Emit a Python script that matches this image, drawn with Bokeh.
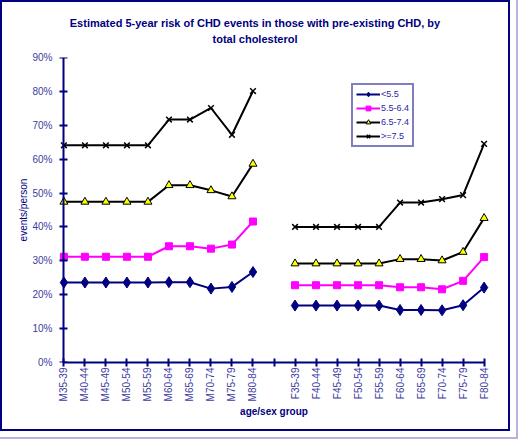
import math

from bokeh.embed import file_html
from bokeh.layouts import column
from bokeh.models import (Div, FixedTicker, Legend, LegendItem, LinearAxis,
                          PrintfTickFormatter, Range1d)
from bokeh.plotting import figure
from bokeh.resources import INLINE

# age/sex groups (men left, women right, one empty slot between)
groups_m = ["M35-39", "M40-44", "M45-49", "M50-54", "M55-59",
            "M60-64", "M65-69", "M70-74", "M75-79", "M80-84"]
groups_f = ["F35-39", "F40-44", "F45-49", "F50-54", "F55-59",
            "F60-64", "F65-69", "F70-74", "F75-79", "F80-84"]

# estimated 5-year risk (%) by total cholesterol band
lt55_m = [23.6, 23.6, 23.6, 23.6, 23.6, 23.7, 23.7, 21.8, 22.3, 26.7]
lt55_f = [16.8, 16.8, 16.8, 16.8, 16.8, 15.5, 15.5, 15.4, 16.9, 22.1]
c55_64_m = [31.2, 31.2, 31.2, 31.2, 31.2, 34.3, 34.3, 33.6, 34.8, 41.6]
c55_64_f = [22.8, 22.8, 22.8, 22.8, 22.8, 22.2, 22.2, 21.6, 24.1, 31.1]
c65_74_m = [47.4, 47.4, 47.4, 47.4, 47.4, 52.3, 52.3, 50.8, 49.0, 58.6]
c65_74_f = [29.2, 29.2, 29.2, 29.2, 29.2, 30.5, 30.5, 30.1, 32.6, 42.6]
ge75_m = [64.1, 64.1, 64.1, 64.1, 64.1, 71.7, 71.7, 75.1, 67.2, 80.1]
ge75_f = [40.0, 40.0, 40.0, 40.0, 40.0, 47.2, 47.2, 48.2, 49.4, 64.5]

y_ticks = [0, 10, 20, 30, 40, 50, 60, 70, 80, 90]

labels = groups_m + [""] + groups_f
x_m = list(range(len(groups_m)))
x_f = [len(groups_m) + 1 + i for i in range(len(groups_f))]

NAVY = "#000080"
TICK_BLUE = "#3C3CA0"
FONT = "Liberation Sans"

title = Div(
    text="Estimated 5-year risk of CHD events in those with pre-existing CHD, by"
         "<br>total cholesterol",
    width=506,
    height=48,
    margin=0,
    styles={
        "text-align": "center",
        "font-family": FONT,
        "font-weight": "bold",
        "font-size": "11px",
        "line-height": "16px",
        "color": NAVY,
        "padding-top": "13px",
        "box-sizing": "border-box",
    },
)

p = figure(
    width=506,
    height=379,
    output_backend="svg",
    toolbar_location=None,
    x_range=Range1d(-0.4, len(labels) - 1 + 0.4),
    y_range=Range1d(0, 90),
    min_border_left=53,
    min_border_right=16,
    min_border_top=7,
    min_border_bottom=67,
    margin=0,
)
p.outline_line_color = None
p.grid.visible = False

series = [
    ("<5.5", lt55_m, lt55_f, NAVY, "diamond", NAVY, 11),
    ("5.5-6.4", c55_64_m, c55_64_f, "#FF00FF", "square", "#FF00FF", 7),
    ("6.5-7.4", c65_74_m, c65_74_f, "black", "triangle", "#FFFF00", 8),
    (">=7.5", ge75_m, ge75_f, "black", "x", "black", 8),
]

items = []
for name, ym, yf, color, marker, fill, size in series:
    rs = []
    for xs, ys in ((x_m, ym), (x_f, yf)):
        rs.append(p.line(xs, ys, line_color=color, line_width=2))
        rs.append(p.scatter(xs, ys, marker=marker, size=size, fill_color=fill,
                            line_color=color, line_width=1.5 if marker == "x" else 1))
    items.append(LegendItem(label=name, renderers=[rs[0], rs[1]]))

legend = Legend(
    items=items,
    location=(296, 215),
    label_text_font=FONT,
    label_text_font_size="9px",
    label_text_color="#2828A0",
    glyph_width=24,
    glyph_height=12,
    label_height=12,
    spacing=2,
    padding=3,
    margin=0,
    label_standoff=1,
    border_line_color=NAVY,
    border_line_width=2,
    background_fill_alpha=1,
)
p.add_layout(legend, "center")

# x axis: regular axis at the bottom of the frame
xa = p.xaxis[0]
xa.bounds = (0, len(labels) - 1)
xa.ticker = FixedTicker(ticks=list(range(len(labels))))
xa.major_label_overrides = {i: t for i, t in enumerate(labels)}
xa.major_label_orientation = math.pi / 2
xa.axis_line_color = NAVY
xa.axis_line_width = 2
xa.major_tick_line_color = NAVY
xa.major_tick_line_width = 2
xa.major_tick_in = 4
xa.major_tick_out = 4
xa.minor_tick_line_color = None
xa.major_label_standoff = 1
xa.major_label_text_font = FONT
xa.major_label_text_font_size = "10px"
xa.major_label_text_color = TICK_BLUE
xa.axis_label = "age/sex group"
xa.axis_label_standoff = 2
xa.axis_label_text_font = FONT
xa.axis_label_text_font_size = "10px"
xa.axis_label_text_font_style = "bold"
xa.axis_label_text_color = NAVY

# y axis labels on the regular left axis
ya = p.yaxis[0]
ya.ticker = FixedTicker(ticks=y_ticks)
ya.formatter = PrintfTickFormatter(format="%d%%")
ya.axis_line_color = None
ya.major_tick_line_color = None
ya.minor_tick_line_color = None
ya.major_tick_in = 0
ya.major_tick_out = 0
ya.major_label_standoff = 3
ya.major_label_text_font = FONT
ya.major_label_text_font_size = "10px"
ya.major_label_text_color = TICK_BLUE
ya.axis_label = "events/person"
ya.axis_label_standoff = 0
ya.axis_label_text_font = FONT
ya.axis_label_text_font_size = "10px"
ya.axis_label_text_font_style = "normal"
ya.axis_label_text_color = NAVY

# y axis line and ticks pinned at x=0 (through the first group)
ya0 = LinearAxis(
    fixed_location=0,
    bounds=(0, 90),
    ticker=FixedTicker(ticks=y_ticks),
    axis_line_color=NAVY,
    axis_line_width=2,
    major_tick_line_color=NAVY,
    major_tick_line_width=2,
    major_tick_in=4,
    major_tick_out=4,
    minor_tick_line_color=None,
    major_label_text_alpha=0,
)
p.add_layout(ya0, "right")

page = column(title, p, margin=0,
              styles={"border": "2px solid " + NAVY, "background-color": "white",
                      "box-shadow": "0 0 0 6px white, 0 0 0 8px #B4B4E0"})

open("out.html", "w").write(file_html(page, INLINE))
